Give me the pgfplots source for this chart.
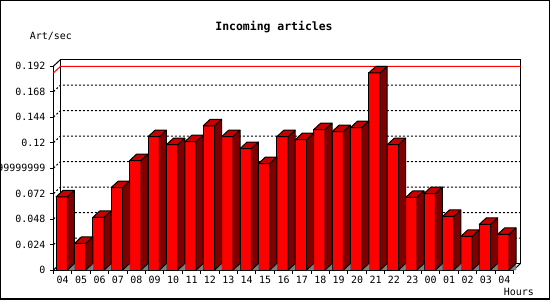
\documentclass[border=0pt]{standalone}
\usepackage{pgfplots}
\usepackage{pgfplotstable}
\pgfplotsset{compat=1.18}
\usepackage{fontspec}
\setmainfont{DejaVu Sans Mono}
\definecolor{barfront}{RGB}{255,0,0}
\definecolor{bartop}{RGB}{200,0,0}
\definecolor{barside}{RGB}{128,0,0}
\definecolor{floorgray}{RGB}{128,128,128}
\pgfdeclareplotmark{emptymark}{}

\pgfplotstableread{
idx lab val
0 04 0.0688
1 05 0.0250
2 06 0.0495
3 07 0.0776
4 08 0.1030
5 09 0.1255
6 10 0.1180
7 11 0.1208
8 12 0.1358
9 13 0.1255
10 14 0.1143
11 15 0.1002
12 16 0.1255
13 17 0.1227
14 18 0.1321
15 19 0.1302
16 20 0.1340
17 21 0.1856
18 22 0.1180
19 23 0.0683
20 00 0.0720
21 01 0.0504
22 02 0.0316
23 03 0.0429
24 04 0.0335
}\datatable

\begin{document}
\begin{tikzpicture}[x=1bp,y=1bp]
\fill[white] (0,0) rectangle (550,300);
\begin{axis}[
  at={(53.5bp,30bp)}, anchor=south west,
  x=18.4bp, y=1062bp,
  xmin=-0.5, xmax=24.5, ymin=0, ymax=0.192,
  clip=false,
  axis x line*=bottom, axis y line*=left,
  axis line style={-, line width=1bp, black},
  xtick={0,...,24},
  xticklabels={04,05,06,07,08,09,10,11,12,13,14,15,16,17,18,19,20,21,22,23,00,01,02,03,04},
  major x tick style={draw=none},
  minor xtick={-0.5,0.5,...,24.5},
  ytick={0,0.024,0.048,0.072,0.096,0.12,0.144,0.168,0.192},
  yticklabels={0,0.024,0.048,0.072,0.09599999999,0.12,0.144,0.168,0.192},
  tick align=outside,
  major tick length=4bp, minor tick length=4bp,
  tick style={black, line width=1bp},
  ticklabel style={font=\fontsize{10}{12}\selectfont, inner sep=0pt},
  yticklabel style={anchor=east, xshift=-4bp},
  xticklabel style={anchor=north, yshift=-2bp},
  /pgf/number format/assume math mode=true,
]
% back plane
\draw[line width=1bp, fill=white] ([shift={(7bp,6.5bp)}]axis cs:-0.5,0) rectangle ([shift={(7bp,6.5bp)}]axis cs:24.5,0.192);
\pgfplotsinvokeforeach{0.024,0.048,0.072,0.096,0.12,0.144,0.168}{
  \draw[line width=1bp, dash pattern=on 2bp off 2bp] (axis cs:-0.5,#1) -- ++(7bp,6.5bp) -- ([shift={(7bp,6.5bp)}]axis cs:24.5,#1);
}
\draw[line width=1bp] (axis cs:-0.5,0.192) -- ++(7bp,6.5bp);
\draw[line width=1bp] (axis cs:-0.5,0) -- ++(7bp,6.5bp);
\draw[line width=1bp] (axis cs:24.5,0) -- ++(7bp,6.5bp);
% max line
\addplot[red, line width=1bp, mark=none] coordinates {(-0.5,0.1856) (-0.1196,0.19172) (24.8804,0.19172)};
% front faces
\addplot[ybar, bar width=11.4bp, bar shift=-1bp, fill=barfront, draw=black, line width=1bp] table[x=idx,y=val]{\datatable};
% top and side faces
\addplot[scatter, only marks, mark=emptymark,
  visualization depends on={rawy \as \rawy},
  scatter/@pre marker code/.code={%
    \pgfmathsetlengthmacro\hh{\rawy*1062bp}%
    \fill[floorgray] (4.7bp,-\hh) -- (11.7bp,-\hh+6.5bp) -- (11.7bp,-\hh) -- cycle;
    \filldraw[fill=bartop, draw=black, line width=1bp, line join=round] (-6.7bp,0pt) -- (4.7bp,0pt) -- (11.7bp,6.5bp) -- (0.3bp,6.5bp) -- cycle;
    \filldraw[fill=barside, draw=black, line width=1bp, line join=round] (4.7bp,0pt) -- (11.7bp,6.5bp) -- (11.7bp,-\hh+6.5bp) -- (4.7bp,-\hh) -- cycle;
  },
  scatter/@post marker code/.code={}
] table[x=idx,y=val]{\datatable};
\end{axis}
\node[font=\bfseries\fontsize{11.5}{13}\selectfont] at (274,273.3) {Incoming articles};
\node[anchor=west, inner sep=0pt, font=\fontsize{10}{12}\selectfont] at (29.7,263.3) {Art/sec};
\node[anchor=east, inner sep=0pt, font=\fontsize{10}{12}\selectfont] at (534,8) {Hours};
\draw[line width=1bp] (0.5,0.5) rectangle (549.5,299.5);
\draw[line width=1bp] (0,1.5) -- (550,1.5);
\pgfresetboundingbox
\useasboundingbox (0,0) rectangle (550,300);
\end{tikzpicture}
\end{document}
